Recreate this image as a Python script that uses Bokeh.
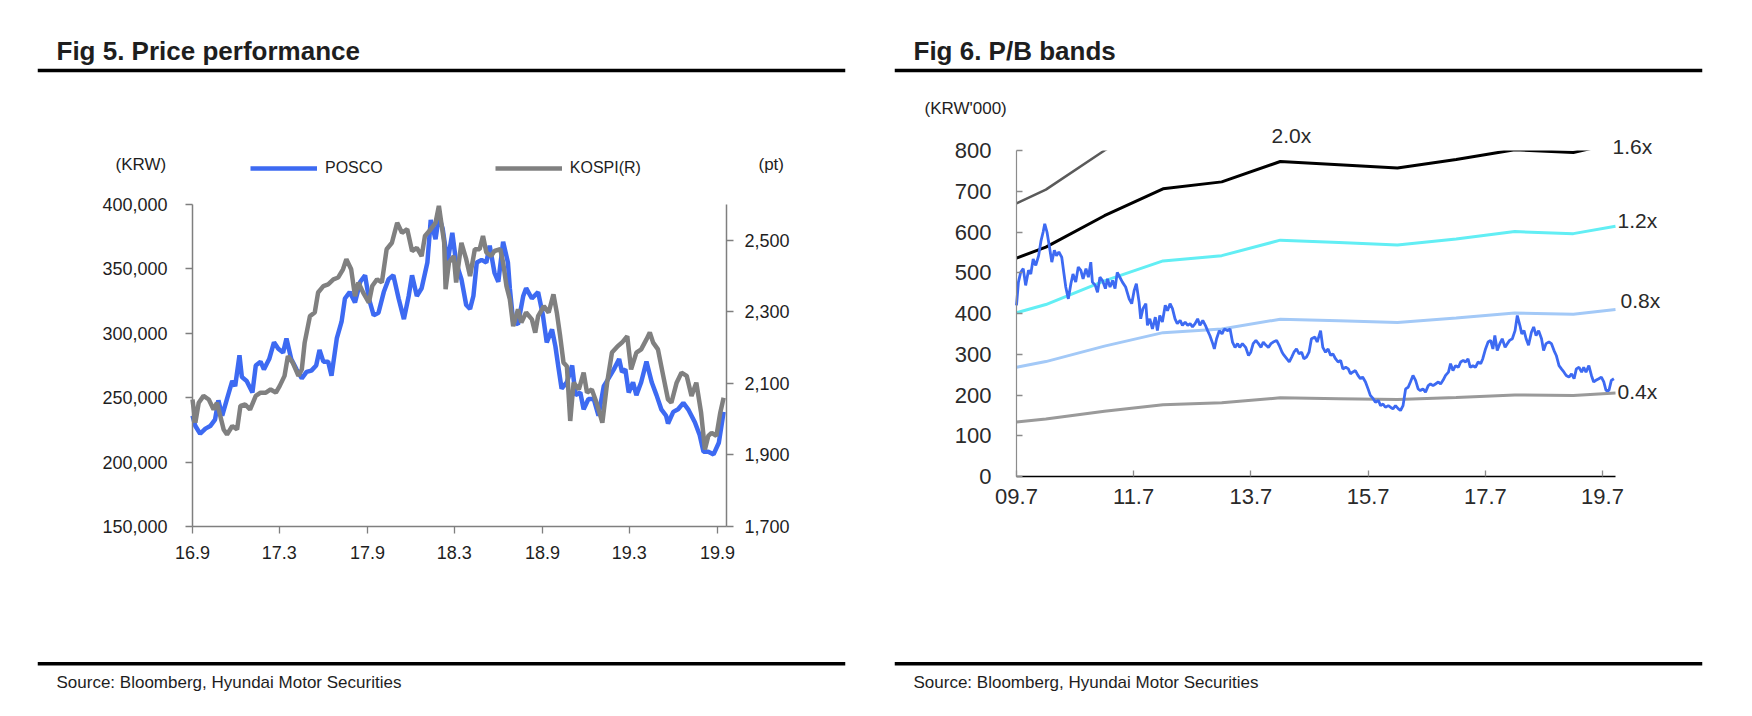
import pandas as pd
from bokeh.plotting import figure
from bokeh.models import (ColumnDataSource, Range1d, LinearAxis, FixedTicker, BoxAnnotation,
                          NumeralTickFormatter, Label, Legend, LegendItem, Span)
from bokeh.layouts import row
from bokeh.embed import file_html
from bokeh.resources import INLINE

# ---------------- Fig 5 data ----------------
posco_dates = ["2016-09-01","2016-09-07","2016-09-17","2016-09-28","2016-10-08","2016-10-18","2016-10-25","2016-11-02","2016-11-12","2016-11-23",
    "2016-11-29","2016-12-08","2016-12-13","2016-12-23","2017-01-04","2017-01-11","2017-01-21","2017-01-28","2017-02-08","2017-02-18",
    "2017-02-27","2017-03-09","2017-03-16","2017-03-26","2017-04-06","2017-04-17","2017-04-27","2017-05-07","2017-05-17","2017-05-24",
    "2017-06-01","2017-06-11","2017-06-18","2017-06-29","2017-07-09","2017-07-16","2017-07-26","2017-08-06","2017-08-17","2017-08-27",
    "2017-09-04","2017-09-14","2017-09-24","2017-10-05","2017-10-15","2017-10-25","2017-11-05","2017-11-16","2017-11-26","2017-12-03",
    "2017-12-13","2017-12-23","2018-01-04","2018-01-11","2018-01-21","2018-01-28","2018-02-05","2018-02-15","2018-02-25","2018-03-05",
    "2018-03-16","2018-03-26","2018-04-03","2018-04-10","2018-04-17","2018-04-27","2018-05-07","2018-05-14","2018-05-24","2018-06-01",
    "2018-06-11","2018-06-21","2018-06-25","2018-07-02","2018-07-12","2018-07-23","2018-07-29","2018-08-10","2018-08-23","2018-09-02",
    "2018-09-10","2018-09-21","2018-09-28","2018-10-05","2018-10-11","2018-10-22","2018-11-02","2018-11-09","2018-11-19","2018-11-26",
    "2018-12-06","2018-12-17","2018-12-27","2019-01-07","2019-01-17","2019-01-28","2019-02-08","2019-02-14","2019-02-21","2019-02-28",
    "2019-03-09","2019-03-16","2019-03-26","2019-04-06","2019-04-17","2019-04-27","2019-05-07","2019-05-17","2019-05-21","2019-06-01",
    "2019-06-11","2019-06-22","2019-07-02","2019-07-09","2019-07-16","2019-07-26","2019-08-03","2019-08-13","2019-08-24","2019-09-04",
    "2019-09-14"]
posco_krw = [236000,228000,222000,226000,228000,233000,248000,236000,249000,263000,
    259000,283000,266000,263000,254000,275000,278000,272000,280000,293000,
    288000,285000,296000,280000,272000,265000,270000,271000,275000,287000,
    278000,278000,267000,296000,309000,327000,332000,324000,340000,345000,
    327000,314000,316000,332000,342000,345000,327000,311000,329000,345000,
    329000,335000,355000,388000,373000,391000,381000,355000,378000,355000,
    342000,322000,319000,329000,355000,357000,355000,368000,347000,340000,
    371000,355000,335000,309000,307000,329000,335000,327000,332000,314000,
    293000,303000,290000,272000,257000,262000,275000,252000,254000,241000,
    249000,249000,236000,259000,265000,272000,280000,270000,272000,254000,
    262000,252000,262000,278000,262000,252000,241000,236000,230000,239000,
    241000,246000,241000,236000,231000,221000,208000,208000,206000,215000,
    239000]
kospi_dates = ["2016-09-01","2016-09-07","2016-09-14","2016-09-24","2016-10-05","2016-10-15","2016-10-22","2016-10-29","2016-11-05","2016-11-12",
    "2016-11-23","2016-12-03","2016-12-10","2016-12-20","2016-12-30","2017-01-11","2017-01-21","2017-02-01","2017-02-11","2017-02-22",
    "2017-03-02","2017-03-12","2017-03-19","2017-03-29","2017-04-10","2017-04-17","2017-04-23","2017-05-04","2017-05-14","2017-05-21",
    "2017-06-01","2017-06-11","2017-06-22","2017-07-02","2017-07-12","2017-07-19","2017-07-29","2017-08-06","2017-08-13","2017-08-23",
    "2017-09-04","2017-09-11","2017-09-21","2017-10-01","2017-10-11","2017-10-22","2017-11-02","2017-11-12","2017-11-23","2017-12-03",
    "2017-12-13","2017-12-23","2017-12-30","2018-01-11","2018-01-21","2018-01-28","2018-02-08","2018-02-11","2018-02-18","2018-02-28",
    "2018-03-05","2018-03-16","2018-03-26","2018-04-03","2018-04-13","2018-04-23","2018-04-30","2018-05-07","2018-05-17","2018-05-24",
    "2018-06-05","2018-06-11","2018-06-18","2018-06-25","2018-07-02","2018-07-12","2018-07-19","2018-07-29","2018-08-10","2018-08-17",
    "2018-08-23","2018-09-04","2018-09-14","2018-09-24","2018-10-01","2018-10-08","2018-10-15","2018-10-22","2018-10-29","2018-11-05",
    "2018-11-16","2018-11-26","2018-12-03","2018-12-13","2018-12-23","2019-01-04","2019-01-14","2019-01-24","2019-02-05","2019-02-14",
    "2019-02-25","2019-03-05","2019-03-16","2019-03-26","2019-04-06","2019-04-13","2019-04-20","2019-04-30","2019-05-11","2019-05-21",
    "2019-05-28","2019-06-08","2019-06-18","2019-06-29","2019-07-09","2019-07-19","2019-07-29","2019-08-06","2019-08-13","2019-08-20",
    "2019-08-30","2019-09-07","2019-09-14"]
kospi_pt = [2055,1990,2046,2065,2055,2027,2046,2009,1971,1957,
    1981,1971,2037,2041,2027,2065,2074,2074,2083,2074,
    2093,2121,2176,2158,2121,2139,2214,2288,2298,2354,
    2372,2377,2391,2396,2419,2447,2419,2344,2382,2354,
    2326,2372,2391,2382,2475,2493,2549,2521,2531,2470,
    2479,2456,2512,2531,2549,2596,2493,2363,2438,2456,
    2382,2493,2447,2400,2475,2475,2512,2466,2456,2470,
    2475,2438,2372,2335,2260,2307,2270,2298,2279,2242,
    2288,2316,2298,2349,2298,2232,2158,2148,1995,2102,
    2083,2130,2074,2083,2046,1990,2102,2186,2204,2214,
    2232,2139,2186,2195,2223,2242,2214,2195,2121,2055,
    2046,2102,2130,2121,2065,2102,2018,1915,1953,1962,
    1953,2018,2060]
fig5_x_span = ["2016-09-01", "2019-09-20"]
fig5_tick_dates = ["2016-09-01","2017-03-01","2017-09-01","2018-03-01","2018-09-01","2019-03-01","2019-09-01"]
fig5_tick_labels = ["16.9","17.3","17.9","18.3","18.9","19.3","19.9"]
fig5_left_ticks = [150000,200000,250000,300000,350000,400000]
fig5_right_ticks = [1700,1900,2100,2300,2500]
fig5_left_span = (150000, 400000)
fig5_right_span = (1700, 2600)

# ---------------- Fig 6 data ----------------
price_dates = ["2009-07-01","2009-07-13","2009-07-27","2009-08-12","2009-08-27","2009-09-14","2009-09-28","2009-10-13","2009-10-29","2009-11-16",
    "2009-12-01","2009-12-14","2009-12-24","2010-01-07","2010-01-21","2010-02-06","2010-02-22","2010-03-07","2010-03-22","2010-04-09",
    "2010-04-23","2010-05-04","2010-05-20","2010-06-05","2010-06-18","2010-07-05","2010-07-21","2010-08-06","2010-08-20","2010-09-07",
    "2010-09-22","2010-10-07","2010-10-17","2010-11-04","2010-11-18","2010-12-03","2010-12-19","2011-01-06","2011-01-19","2011-02-04",
    "2011-02-20","2011-03-07","2011-03-21","2011-04-06","2011-04-22","2011-05-12","2011-06-03","2011-06-19","2011-07-04","2011-07-18",
    "2011-08-04","2011-08-14","2011-08-28","2011-09-15","2011-09-25","2011-10-10","2011-10-26","2011-11-13","2011-11-26","2011-12-11",
    "2011-12-27","2012-01-14","2012-01-28","2012-02-13","2012-02-28","2012-03-15","2012-03-29","2012-04-16","2012-04-30","2012-05-17",
    "2012-06-02","2012-06-17","2012-07-02","2012-07-18","2012-08-03","2012-08-17","2012-09-04","2012-09-20","2012-10-04","2012-10-18",
    "2012-11-05","2012-11-15","2012-11-29","2012-12-16","2013-01-02","2013-01-16","2013-02-07","2013-02-21","2013-03-08","2013-03-24",
    "2013-04-09","2013-04-22","2013-05-09","2013-05-29","2013-06-16","2013-06-30","2013-07-15","2013-08-01","2013-08-17","2013-09-02",
    "2013-09-16","2013-10-03","2013-10-18","2013-11-03","2013-11-17","2013-12-08","2013-12-24","2014-01-11","2014-01-24","2014-02-09",
    "2014-02-25","2014-03-12","2014-03-26","2014-04-11","2014-04-27","2014-05-13","2014-05-27","2014-06-12","2014-06-28","2014-07-13",
    "2014-08-04","2014-08-18","2014-09-08","2014-09-22","2014-10-09","2014-10-25","2014-11-10","2014-11-24","2014-12-10","2014-12-26",
    "2015-01-11","2015-01-25","2015-02-12","2015-02-28","2015-03-13","2015-03-26","2015-04-13","2015-04-29","2015-05-14","2015-05-28",
    "2015-06-15","2015-07-01","2015-07-15","2015-08-02","2015-08-16","2015-09-03","2015-09-17","2015-10-02","2015-10-17","2015-11-04",
    "2015-11-18","2015-12-03","2015-12-19","2016-01-06","2016-01-19","2016-02-04","2016-02-20","2016-03-07","2016-03-21","2016-04-06",
    "2016-04-22","2016-05-08","2016-05-22","2016-06-07","2016-06-23","2016-07-10","2016-07-24","2016-08-09","2016-08-24","2016-09-11",
    "2016-09-25","2016-10-10","2016-10-26","2016-11-13","2016-11-26","2016-12-11","2016-12-27","2017-01-14","2017-01-28","2017-02-13",
    "2017-02-28","2017-03-15","2017-03-29","2017-04-14","2017-04-30","2017-05-17","2017-06-02","2017-06-15","2017-07-02","2017-07-18",
    "2017-08-03","2017-08-17","2017-08-29","2017-09-13","2017-09-29","2017-10-14","2017-11-01","2017-11-15","2017-11-29","2017-12-16",
    "2018-01-02","2018-01-16","2018-02-01","2018-02-13","2018-02-27","2018-03-12","2018-03-27","2018-04-14","2018-04-28","2018-05-13",
    "2018-05-29","2018-06-16","2018-06-29","2018-07-14","2018-08-01","2018-08-17","2018-09-02","2018-09-16","2018-10-03","2018-10-18",
    "2018-11-03","2018-11-17","2018-12-04","2018-12-20","2019-01-05","2019-01-19","2019-02-05","2019-02-21","2019-03-06","2019-03-20",
    "2019-04-07","2019-04-23","2019-05-07","2019-05-21","2019-06-08","2019-06-24","2019-07-09","2019-07-23","2019-08-10","2019-08-25",
    "2019-09-10"]
price_krw000 = [420,477,501,510,469,506,497,534,518,542,
    579,600,620,600,567,526,555,542,551,538,
    497,465,436,473,497,477,514,506,485,510,
    489,526,477,469,452,489,481,461,485,465,
    481,461,501,489,477,465,436,424,456,473,
    428,387,412,424,371,387,362,391,358,395,
    379,420,407,424,412,387,375,383,371,379,
    371,375,367,375,387,371,383,371,358,346,
    326,313,338,358,350,362,358,362,330,317,
    326,317,326,317,297,305,326,334,326,317,
    330,322,317,326,330,334,322,305,297,289,
    281,293,305,313,301,305,289,293,305,338,
    342,330,358,317,305,313,297,301,289,281,
    285,264,268,264,252,256,260,248,240,244,
    232,215,199,191,182,187,174,178,170,174,
    170,166,174,166,162,174,215,219,232,248,
    236,215,211,215,207,223,227,223,227,232,
    227,236,248,256,277,260,272,268,281,285,
    281,289,268,272,268,281,277,289,313,330,
    334,313,346,309,326,338,317,326,334,338,
    358,395,371,350,358,338,322,354,367,346,
    358,338,309,326,330,326,309,297,272,264,
    256,248,244,252,240,264,268,256,268,256,
    272,248,232,236,240,244,232,211,211,236,
    240]
band_dates = ["2009-07-01","2009-12-31","2010-12-31","2011-12-31","2012-12-31","2013-12-31",
              "2014-12-31","2015-12-31","2016-12-31","2017-12-31","2018-12-31","2019-09-20"]
band_04x = [134,141,160,176,181,193,191,189,194,200,199,205]
band_08x = [268,282,320,353,362,386,382,378,389,401,398,410]
band_12x = [402,422,480,529,542,580,574,568,583,601,596,614]
band_16x = [536,563,640,706,723,773,765,757,778,802,795,819]
band_20x = [670,704,800,882,904,966,956,946,972,1002,994,1024]
band_names = ["0.4x","0.8x","1.2x","1.6x","2.0x"]
fig6_x_span = ["2009-07-01", "2019-09-20"]
fig6_tick_dates = ["2009-07-01","2011-07-01","2013-07-01","2015-07-01","2017-07-01","2019-07-01"]
fig6_tick_labels = ["09.7","11.7","13.7","15.7","17.7","19.7"]
fig6_y_ticks = [0,100,200,300,400,500,600,700,800]
fig6_y_span = (0, 800)

# ---------------- styling / layout (page pixels) ----------------
FONT = "Liberation Sans"
INK = "#1e1e1e"
BLUE = "#3d6af2"
GREY = "#808080"
W, H = 868, 700
PAGE_TOP, PAGE_BOTTOM = 0, 700


def ms(d):
    return int(pd.Timestamp(d).value // 10**6)


def mapped_range(v0, v1, p0, p1, f0, f1):
    """Range whose value v0 sits at pixel p0 and v1 at pixel p1, for a frame spanning pixels f0..f1."""
    k = (v1 - v0) / (p1 - p0)
    return Range1d(v0 + (f0 - p0) * k, v0 + (f1 - p0) * k)


def base_fig(frame_left, frame_right, page_x0):
    p = figure(width=W, height=H, toolbar_location=None, output_backend="svg",
               x_axis_location=None, y_axis_location=None,
               min_border_left=frame_left - page_x0, min_border_right=page_x0 + W - frame_right,
               min_border_top=0, min_border_bottom=0)
    p.outline_line_color = None
    p.background_fill_color = "white"
    p.border_fill_color = "white"
    p.grid.visible = False
    return p


def text(p, s, frame_left, x_page, baseline_page, size_px, bold=False, color=INK):
    # vertical anchor at the middle of the text box (about 0.35 em above the baseline)
    y_mid = baseline_page - 0.3465 * size_px
    p.add_layout(Label(x=x_page - frame_left, y=PAGE_BOTTOM - y_mid, x_units="screen", y_units="screen",
                       text=s, text_font=FONT, text_font_size=f"{size_px}px",
                       text_font_style="bold" if bold else "normal",
                       text_color=color, text_baseline="middle", text_align="left"))


def decorate(p, title, frame_left, title_x):
    text(p, title, frame_left, title_x, 59.3, 26, bold=True)
    p.add_layout(Span(location=PAGE_BOTTOM - 70, location_units="screen", dimension="width",
                      line_color="black", line_width=3.5))
    p.add_layout(Span(location=PAGE_BOTTOM - 663.3, location_units="screen", dimension="width",
                      line_color="black", line_width=3.5))
    text(p, "Source: Bloomberg, Hyundai Motor Securities", frame_left, title_x, 688.3, 17)


def style_axis(ax, color, width, tick_out, tick_in, size, standoff, label_color=INK):
    ax.axis_line_color = color
    ax.axis_line_width = width
    ax.major_tick_line_color = color
    ax.major_tick_line_width = 1.3
    ax.major_tick_out = tick_out
    ax.major_tick_in = tick_in
    ax.minor_tick_line_color = None
    ax.major_label_text_font = FONT
    ax.major_label_text_font_size = size
    ax.major_label_text_color = label_color
    ax.major_label_standoff = standoff


# ---------------- Fig 5 ----------------
L5, R5, X0_5 = 37, 845, 0          # frame (rule) extent and page x of the panel
PX5 = (192, 726)                   # plot area x pixels
PY5 = (526, 204)                   # plot area y pixels (bottom, top)
p5 = base_fig(L5, R5, X0_5)
p5.x_range = mapped_range(ms(fig5_x_span[0]), ms(fig5_x_span[1]), PX5[0], PX5[1], L5, R5)
p5.y_range = mapped_range(fig5_left_span[0], fig5_left_span[1], PY5[0], PY5[1], PAGE_BOTTOM, PAGE_TOP)
p5.extra_y_ranges = {"kospi": mapped_range(fig5_right_span[0], fig5_right_span[1], PY5[0], PY5[1],
                                            PAGE_BOTTOM, PAGE_TOP)}

src_posco = ColumnDataSource(dict(d=pd.to_datetime(posco_dates), v=posco_krw))
src_kospi = ColumnDataSource(dict(d=pd.to_datetime(kospi_dates), v=kospi_pt))
r_posco = p5.line("d", "v", source=src_posco, line_color=BLUE, line_width=4.5)
r_kospi = p5.line("d", "v", source=src_kospi, line_color=GREY, line_width=4.5, y_range_name="kospi")

ax_l = LinearAxis(fixed_location=ms(fig5_x_span[0]), bounds=fig5_left_span,
                  ticker=FixedTicker(ticks=fig5_left_ticks), formatter=NumeralTickFormatter(format="0,0"))
ax_r = LinearAxis(y_range_name="kospi", fixed_location=ms(fig5_x_span[1]), bounds=fig5_right_span,
                  ticker=FixedTicker(ticks=fig5_right_ticks), formatter=NumeralTickFormatter(format="0,0"))
ax_b = LinearAxis(fixed_location=fig5_left_span[0], bounds=(ms(fig5_x_span[0]), ms(fig5_x_span[1])),
                  ticker=FixedTicker(ticks=[ms(d) for d in fig5_tick_dates]),
                  major_label_overrides={ms(d): t for d, t in zip(fig5_tick_dates, fig5_tick_labels)})
style_axis(ax_l, "#7f7f7f", 1.5, 7, 0, "18px", 18)
style_axis(ax_r, "#7f7f7f", 1.5, 7, 0, "18px", 11)
style_axis(ax_b, "#7f7f7f", 1.5, 7, 0, "18px", 12)
p5.add_layout(ax_l, "left")
p5.add_layout(ax_r, "right")
p5.add_layout(ax_b, "below")

decorate(p5, "Fig 5. Price performance", L5, 56)
text(p5, "(KRW)", L5, 115, 169.5, 17)
text(p5, "(pt)", L5, 758, 169.5, 17)
leg5 = Legend(items=[LegendItem(label="POSCO", renderers=[r_posco]),
                     LegendItem(label="KOSPI(R)", renderers=[r_kospi])],
              location=(250 - L5, PAGE_BOTTOM - 178), orientation="horizontal",
              glyph_width=67, glyph_height=20, label_height=20, label_standoff=8, spacing=112,
              padding=0, margin=0, border_line_color=None, background_fill_alpha=0,
              label_text_font=FONT, label_text_font_size="16px", label_text_color=INK)
p5.add_layout(leg5)

# ---------------- Fig 6 ----------------
L6, R6, X0_6 = 894, 1702, 868
PX6 = (1016, 1615)
PY6 = (476, 150)
p6 = base_fig(L6, R6, X0_6)
p6.x_range = mapped_range(ms(fig6_x_span[0]), ms(fig6_x_span[1]), PX6[0], PX6[1], L6, R6)
p6.y_range = mapped_range(fig6_y_span[0], fig6_y_span[1], PY6[0], PY6[1], PAGE_BOTTOM, PAGE_TOP)

bd = pd.to_datetime(band_dates)
band_vals = [band_04x, band_08x, band_12x, band_16x, band_20x]
band_cols = ["#9a9a9a", "#a3c9f7", "#62eef4", "#000000", "#5a5a5a"]
band_w = [3, 3, 3, 3, 2.5]
for vals, col, w in zip(band_vals, band_cols, band_w):
    p6.line(x=bd, y=vals, line_color=col, line_width=w)
p6.line(x=pd.to_datetime(price_dates), y=price_krw000, line_color=BLUE, line_width=2.8)
# the plot area ends at 800: hide what the bands draw above it
p6.renderers.append(BoxAnnotation(bottom=fig6_y_span[1], fill_color="white", fill_alpha=1.0,
                                  line_color=None, level="glyph"))

ax6_l = LinearAxis(fixed_location=ms(fig6_x_span[0]), bounds=fig6_y_span,
                   ticker=FixedTicker(ticks=fig6_y_ticks))
ax6_b = LinearAxis(fixed_location=fig6_y_span[0], bounds=(ms(fig6_x_span[0]), ms(fig6_x_span[1])),
                   ticker=FixedTicker(ticks=[ms(d) for d in fig6_tick_dates]),
                   major_label_overrides={ms(d): t for d, t in zip(fig6_tick_dates, fig6_tick_labels)})
style_axis(ax6_l, "#8c8c8c", 1.2, 0, 6, "22px", 25, "#2a2a2a")
style_axis(ax6_b, "#000000", 1.6, 0, 6, "22px", 12, "#2a2a2a")
ax6_b.major_tick_line_color = "#8c8c8c"
p6.add_layout(ax6_l, "left")
p6.add_layout(ax6_b, "below")

decorate(p6, "Fig 6. P/B bands", L6, 913)
text(p6, "(KRW'000)", L6, 924, 113.4, 17)
band_label_px = [(1617, 398), (1620, 307), (1617, 227), (1612, 153), (1271, 142)]
for name, (x, y) in zip(band_names, band_label_px):
    text(p6, name, L6, x, y, 21, color="#2a2a2a")

layout = row(p5, p6)
open("out.html", "w").write(file_html(layout, INLINE))
